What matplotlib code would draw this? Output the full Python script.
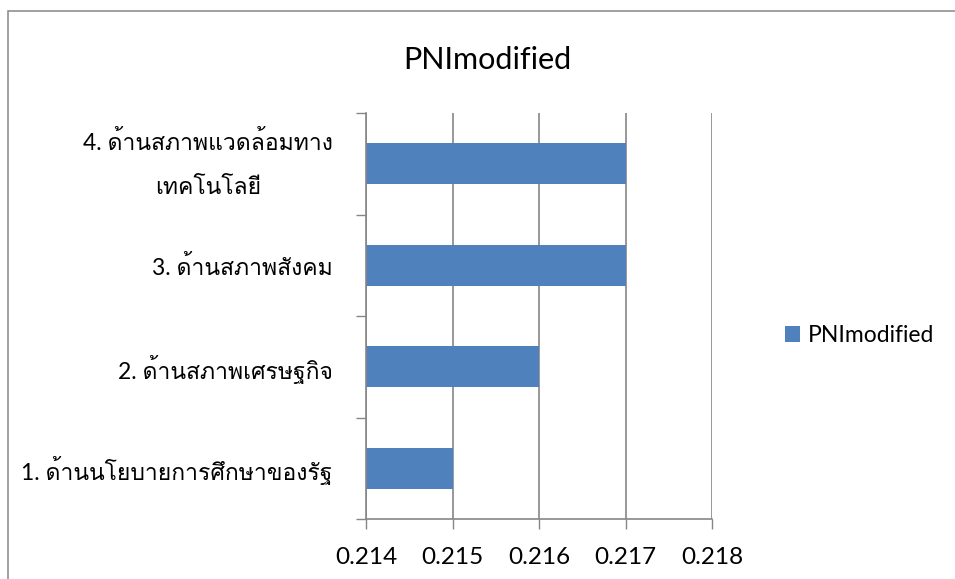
import matplotlib
matplotlib.use("Agg")
import matplotlib.pyplot as plt
from matplotlib import font_manager
from matplotlib.ft2font import FT2Font
from matplotlib.patches import Rectangle

# Data
categories = [
    "1. ด้านนโยบายการศึกษาของรัฐ",
    "2. ด้านสภาพเศรษฐกิจ",
    "3. ด้านสภาพสังคม",
    "4. ด้านสภาพแวดล้อมทาง\nเทคโนโลยี",
]
pni_modified = [0.215, 0.216, 0.217, 0.217]
x_ticks = [0.214, 0.215, 0.216, 0.217, 0.218]
series_name = "PNImodified"


# find a font that can draw Thai
def thai_family():
    for f in font_manager.fontManager.ttflist:
        try:
            cmap = FT2Font(f.fname).get_charmap()
        except Exception:
            continue
        if ord("ด") in cmap and ord("้") in cmap:
            return f.name
    return None


thai = thai_family()
latin = "Lato"
label_fams = [latin] + ([thai] if thai else []) + ["DejaVu Sans"]

GRAY = "#868686"
BLUE = "#4f81bd"

W, H = 955, 579
fig = plt.figure(figsize=(W / 100, H / 100), dpi=100)
ax = fig.add_axes([366 / W, 1 - 519 / H, 346 / W, 406 / H])

ypos = list(range(len(categories)))
ax.barh(ypos, pni_modified, height=0.4, color=BLUE, zorder=3, label=series_name)

ax.set_xlim(x_ticks[0], x_ticks[-1])
ax.set_ylim(-0.5, len(categories) - 0.5)

# x axis
ax.set_xticks(x_ticks)
ax.set_xticklabels([f"{v:.3f}" for v in x_ticks], family=label_fams, fontsize=17.5)
ax.grid(axis="x", color=GRAY, linewidth=1.2, zorder=1)
ax.tick_params(axis="x", direction="out", length=7.5, width=1, color=GRAY, pad=12.5)

# y axis: ticks between categories, labels at centres
ax.set_yticks([i - 0.5 for i in range(len(categories) + 1)])
ax.set_yticklabels([])
ax.set_yticks(ypos, minor=True)
ax.set_yticklabels(categories, minor=True, family=label_fams, fontsize=16.5,
                   multialignment="center")
for lbl in ax.get_yticklabels(minor=True):
    if "\n" in lbl.get_text():
        lbl.set_linespacing(2.35)
        lbl.set_verticalalignment("center")
ax.tick_params(axis="y", which="major", direction="out", length=7.5, width=1, color=GRAY)
ax.tick_params(axis="y", which="minor", length=0, pad=24)

for s in ["top", "right"]:
    ax.spines[s].set_visible(False)
for s in ["left", "bottom"]:
    ax.spines[s].set_color(GRAY)
    ax.spines[s].set_linewidth(1.2)
    ax.spines[s].set_zorder(4)

fig.text(487.5 / W, 1 - 69 / H, "PNImodified", ha="center", va="baseline",
         family=label_fams, fontsize=22)

ax.legend(loc="center left", bbox_to_anchor=(785 / W, 1 - 335.5 / H),
          bbox_transform=fig.transFigure, frameon=False, borderpad=0,
          borderaxespad=0, handlelength=0.65, handleheight=0.65,
          handletextpad=0.35, prop={"family": label_fams, "size": 16.5})

# chart border
fig.patches.append(Rectangle((7.5 / W, -0.1), 1.2, 1.1 - 11.5 / H,
                             transform=fig.transFigure, fill=False,
                             edgecolor=GRAY, linewidth=1.1))

fig.savefig("out.png", dpi=100)
